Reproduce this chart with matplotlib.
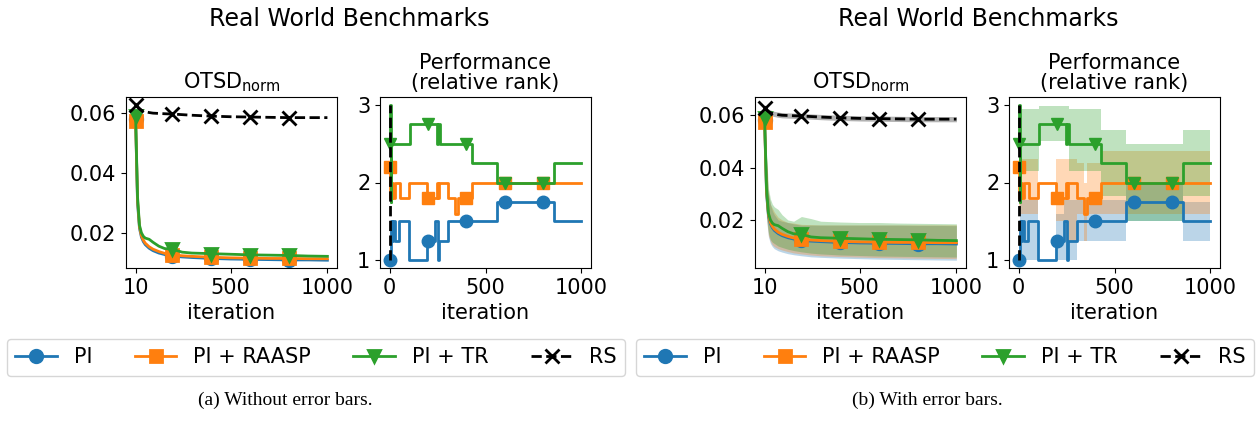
import numpy as np
import matplotlib
matplotlib.use("Agg")
import matplotlib.pyplot as plt

# ---------------- data ----------------
methods = ["PI", "PI + RAASP", "PI + TR", "RS"]
colors = ["#1f77b4", "#ff7f0e", "#2ca02c", "black"]
markers = ["o", "s", "v", "x"]

# OTSD_norm (mean) over iterations
otsd_iter = [10, 20, 30, 40, 50, 60, 80, 100, 130, 160, 200, 250, 300, 400, 500, 600, 700, 800, 900, 1000]
otsd_pi = [0.0580, 0.0300, 0.0215, 0.0185, 0.0170, 0.0160, 0.0148, 0.0140, 0.0132, 0.0127, 0.0122, 0.0119, 0.0117, 0.0114, 0.0112, 0.0111, 0.0110, 0.0109, 0.0109, 0.0108]
otsd_raasp = [0.0575, 0.0310, 0.0220, 0.0190, 0.0175, 0.0165, 0.0153, 0.0145, 0.0137, 0.0131, 0.0126, 0.0123, 0.0121, 0.0118, 0.0116, 0.0115, 0.0114, 0.0114, 0.0113, 0.0113]
otsd_tr = [0.0590, 0.0320, 0.0225, 0.0200, 0.0188, 0.0182, 0.0178, 0.0168, 0.0155, 0.0147, 0.0145, 0.0135, 0.0132, 0.0130, 0.0128, 0.0126, 0.0125, 0.0124, 0.0122, 0.0121]
otsd_rs = [0.0628, 0.0620, 0.0614, 0.0610, 0.0607, 0.0605, 0.0602, 0.0600, 0.0599, 0.0598, 0.0597, 0.0595, 0.0593, 0.0590, 0.0588, 0.0587, 0.0586, 0.0585, 0.0585, 0.0585]

# OTSD_norm error bands
otsd_pi_lo = [0.0560, 0.0200, 0.0135, 0.0110, 0.0098, 0.0090, 0.0082, 0.0077, 0.0071, 0.0067, 0.0063, 0.0059, 0.0057, 0.0054, 0.0052, 0.0050, 0.0049, 0.0048, 0.0047, 0.0046]
otsd_pi_hi = [0.0600, 0.0400, 0.0300, 0.0260, 0.0235, 0.0220, 0.0200, 0.0195, 0.0190, 0.0185, 0.0180, 0.0180, 0.0180, 0.0180, 0.0180, 0.0180, 0.0180, 0.0179, 0.0179, 0.0178]
otsd_raasp_lo = [0.0570, 0.0210, 0.0140, 0.0118, 0.0105, 0.0098, 0.0090, 0.0085, 0.0079, 0.0074, 0.0070, 0.0066, 0.0063, 0.0060, 0.0058, 0.0056, 0.0055, 0.0054, 0.0053, 0.0052]
otsd_raasp_hi = [0.0585, 0.0410, 0.0300, 0.0260, 0.0245, 0.0230, 0.0210, 0.0200, 0.0190, 0.0188, 0.0183, 0.0182, 0.0181, 0.0181, 0.0181, 0.0181, 0.0181, 0.0181, 0.0181, 0.0181]
otsd_tr_lo = [0.0580, 0.0220, 0.0150, 0.0125, 0.0115, 0.0110, 0.0100, 0.0095, 0.0088, 0.0083, 0.0078, 0.0073, 0.0070, 0.0066, 0.0064, 0.0062, 0.0061, 0.0060, 0.0059, 0.0058]
otsd_tr_hi = [0.0595, 0.0450, 0.0320, 0.0280, 0.0260, 0.0250, 0.0240, 0.0220, 0.0200, 0.0195, 0.0213, 0.0205, 0.0195, 0.0192, 0.0190, 0.0190, 0.0188, 0.0187, 0.0186, 0.0185]
otsd_rs_lo = [0.0615, 0.0609, 0.0604, 0.0600, 0.0597, 0.0595, 0.0592, 0.0590, 0.0589, 0.0588, 0.0587, 0.0585, 0.0583, 0.0580, 0.0578, 0.0577, 0.0576, 0.0575, 0.0575, 0.0575]
otsd_rs_hi = [0.0640, 0.0631, 0.0624, 0.0620, 0.0617, 0.0615, 0.0612, 0.0610, 0.0609, 0.0608, 0.0607, 0.0605, 0.0603, 0.0600, 0.0598, 0.0597, 0.0596, 0.0595, 0.0595, 0.0595]

# Performance (relative rank), step changes
rank_pi_iter = [0, 5, 15, 20, 30, 50, 100, 196, 200, 236, 250, 256, 306, 400, 560, 600, 800, 857, 1000]
rank_pi = [1.0, 1.5, 1.25, 1.5, 1.25, 1.5, 1.0, 1.25, 1.25, 1.5, 1.0, 1.25, 1.5, 1.5, 1.75, 1.75, 1.75, 1.5, 1.5]
rank_pi_lo = [1.0, 1.0, 1.0, 1.0, 1.0, 1.0, 1.0, 1.0, 1.0, 1.0, 1.0, 1.0, 1.25, 1.25, 1.5, 1.5, 1.5, 1.25, 1.25]
rank_pi_hi = [1.0, 1.78, 1.78, 1.78, 1.78, 1.78, 1.0, 1.6, 1.6, 1.78, 1.78, 1.78, 1.78, 1.78, 2.0, 2.0, 2.0, 1.75, 1.75]

rank_raasp_iter = [0, 3, 10, 20, 30, 52, 100, 196, 200, 245, 250, 255, 306, 340, 355, 400, 428, 600, 800, 1000]
rank_raasp = [2.2, 1.8, 2.0, 1.8, 2.0, 1.8, 2.0, 1.8, 1.8, 2.0, 1.8, 2.0, 1.8, 1.6, 1.8, 1.8, 2.0, 2.0, 2.0, 2.0]
rank_raasp_lo = [2.1, 1.6, 1.6, 1.6, 1.6, 1.6, 2.0, 1.5, 1.5, 1.25, 1.25, 1.25, 1.6, 1.25, 1.6, 1.6, 1.6, 1.6, 1.6, 1.6]
rank_raasp_hi = [2.3, 2.3, 2.3, 2.3, 2.3, 2.3, 2.0, 2.3, 2.3, 2.3, 2.3, 2.3, 2.25, 2.0, 2.25, 2.25, 2.4, 2.4, 2.4, 2.4]

rank_tr_iter = [0, 2, 5, 8, 105, 200, 245, 250, 262, 400, 428, 560, 600, 800, 857, 1000]
rank_tr = [2.5, 3.0, 1.75, 2.5, 2.75, 2.75, 2.5, 2.75, 2.5, 2.5, 2.25, 2.0, 2.0, 2.0, 2.25, 2.25]
rank_tr_lo = [2.15, 2.15, 2.15, 2.15, 2.53, 2.53, 2.53, 2.53, 2.15, 2.15, 1.82, 1.5, 1.5, 1.5, 1.82, 1.82]
rank_tr_hi = [2.95, 2.95, 2.95, 2.95, 2.98, 2.98, 2.98, 2.98, 2.95, 2.95, 2.67, 2.5, 2.5, 2.5, 2.67, 2.67]

rank_rs_iter = [4, 4]
rank_rs = [1.0, 3.0]

otsd_marker_iters = [10, 200, 400, 600, 800]
rank_marker_iters = [0, 200, 400, 600, 800]

# ---------------- figure ----------------
W, H = 1260, 424
fig = plt.figure(figsize=(W / 100, H / 100), dpi=100)
FS = 15


def px_axes(left, top, right, bottom):
    return fig.add_axes([left / W, 1 - bottom / H, (right - left) / W, (bottom - top) / H])


def idx_of(xs, wanted):
    return [i for i, v in enumerate(xs) if v in wanted]


otsd_means = [otsd_pi, otsd_raasp, otsd_tr, otsd_rs]
otsd_los = [otsd_pi_lo, otsd_raasp_lo, otsd_tr_lo, otsd_rs_lo]
otsd_his = [otsd_pi_hi, otsd_raasp_hi, otsd_tr_hi, otsd_rs_hi]
rank_iters = [rank_pi_iter, rank_raasp_iter, rank_tr_iter]
rank_means = [rank_pi, rank_raasp, rank_tr]
rank_los = [rank_pi_lo, rank_raasp_lo, rank_tr_lo]
rank_his = [rank_pi_hi, rank_raasp_hi, rank_tr_hi]


def draw_panel(x0, errorbars):
    ax1 = px_axes(126 + x0, 97, 337 + x0, 268)
    ax2 = px_axes(380 + x0, 97, 591 + x0, 268)
    handles = []
    for k in range(4):
        ls = "--" if k == 3 else "-"
        if errorbars:
            ax1.fill_between(otsd_iter, otsd_los[k], otsd_his[k], color=colors[k], alpha=0.3, lw=0)
        ms = 10 if k == 3 else 9
        (h,) = ax1.plot(otsd_iter, otsd_means[k], color=colors[k], ls=ls, lw=2,
                        marker=markers[k], ms=ms, mew=2,
                        markevery=idx_of(otsd_iter, otsd_marker_iters), label=methods[k])
        handles.append(h)
    for k in range(3):
        if errorbars:
            ax2.fill_between(rank_iters[k], rank_los[k], rank_his[k], step="post",
                             color=colors[k], alpha=0.3, lw=0)
        ax2.plot(rank_iters[k], rank_means[k], color=colors[k], lw=2, drawstyle="steps-post",
                 marker=markers[k], ms=9, markevery=idx_of(rank_iters[k], rank_marker_iters))
    ax2.plot(rank_rs_iter, rank_rs, color="black", ls="--", lw=2)

    ax1.set_xticks([10, 500, 1000])
    ax1.set_yticks([0.02, 0.04, 0.06])
    ax1.set_yticklabels(["0.02", "0.04", "0.06"])
    ax2.set_xticks([0, 500, 1000])
    ax2.set_yticks([1, 2, 3])
    for ax in (ax1, ax2):
        ax.tick_params(labelsize=FS)
        ax.set_xlabel("iteration", fontsize=FS)
    ax1.set_title(r"OTSD$_{\mathregular{norm}}$", fontsize=FS)
    ax2.set_title("Performance\n(relative rank)", fontsize=FS, linespacing=1.0)
    fig.text((349 + x0) / W, 1 - 26 / H, "Real World Benchmarks", ha="center",
             va="baseline", fontsize=17)
    return handles


h = draw_panel(0, False)
draw_panel(629, True)

for lx, lw_ in [(7, 618), (636, 618)]:
    fig.legend(h, methods, loc="upper left", ncol=4, mode="expand", borderaxespad=0,
               bbox_to_anchor=(lx / W, 1 - 376 / H, lw_ / W, 37 / H), fontsize=FS)

fig.text(285 / W, 1 - 404.7 / H, "(a) Without error bars.", ha="center", va="baseline",
         family="Liberation Serif", fontsize=14)
fig.text(927.7 / W, 1 - 404.7 / H, "(b) With error bars.", ha="center", va="baseline",
         family="Liberation Serif", fontsize=14)

fig.savefig("out.png", dpi=100)
